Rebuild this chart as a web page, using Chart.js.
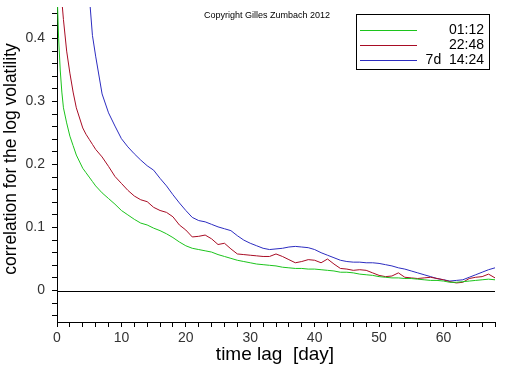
<!DOCTYPE html>
<html>
<head>
<meta charset="utf-8">
<script src="https://cdn.jsdelivr.net/npm/chart.js@4/dist/chart.umd.min.js"></script>
<style>
  html, body { margin: 0; padding: 0; background: #fff; }
  canvas { display: block; }
</style>
</head>
<body>
<canvas id="acf" width="512" height="366"></canvas>
<script>
(function () {
    'use strict';

    // time lag in days
    var lags = [0, 0.25, 0.5, 0.75, 1, 1.5, 2, 2.5, 3, 4, 4.5, 5, 5.5,
        6, 7, 8, 9, 10, 11, 12, 13, 14, 15, 16, 17, 18, 19, 20, 21, 22, 23, 24, 25, 26, 27,
        28, 29, 30, 31, 32, 33, 34, 35, 36, 37, 38, 39, 40, 41, 42, 43, 44, 45, 46, 47, 48,
        49, 50, 51, 52, 53, 54, 55, 56, 57, 58, 59, 60, 61, 62, 63, 64, 65, 66, 67, 68];

    // 01:12
    var acfShort = [0.48, 0.40, 0.35, 0.315, 0.29, 0.266, 0.245, 0.23, 0.215, 0.194, 0.187, 0.18, 0.173,
        0.166, 0.155, 0.146, 0.137, 0.127, 0.12, 0.113, 0.107, 0.104, 0.099, 0.095, 0.09, 0.084, 0.077,
        0.071, 0.067, 0.065, 0.063, 0.061, 0.057, 0.054, 0.051, 0.048, 0.046, 0.044, 0.042, 0.041,
        0.04, 0.039, 0.037, 0.036, 0.035, 0.035, 0.034, 0.034, 0.033, 0.032, 0.031, 0.029, 0.029,
        0.028, 0.026, 0.025, 0.024, 0.022, 0.021, 0.020, 0.020, 0.019, 0.019, 0.018, 0.017, 0.016,
        0.016, 0.015, 0.013, 0.013, 0.014, 0.015, 0.016, 0.017, 0.018, 0.017];

    // 22:48
    var acfDay = [null, null, 0.52, 0.46, 0.43, 0.38, 0.345, 0.315, 0.29, 0.258, 0.248, 0.24, 0.232,
        0.224, 0.212, 0.197, 0.181, 0.17, 0.159, 0.150, 0.144, 0.141, 0.132, 0.127, 0.124, 0.117, 0.104,
        0.096, 0.085, 0.086, 0.088, 0.082, 0.073, 0.075, 0.066, 0.058, 0.057, 0.056, 0.055, 0.054,
        0.054, 0.058, 0.054, 0.049, 0.044, 0.046, 0.049, 0.048, 0.044, 0.050, 0.042, 0.035, 0.034,
        0.032, 0.033, 0.032, 0.028, 0.024, 0.022, 0.023, 0.028, 0.021, 0.020, 0.019, 0.020, 0.021,
        0.019, 0.017, 0.014, 0.012, 0.013, 0.019, 0.021, 0.022, 0.026, 0.020];

    // 7d 14:24
    var acfWeek = [null, null, null, null, null, null, null, null, null, null, 0.55, 0.47, 0.405,
        0.372, 0.312, 0.282, 0.261, 0.241, 0.228, 0.217, 0.207, 0.198, 0.191, 0.178, 0.166, 0.152, 0.139,
        0.127, 0.116, 0.111, 0.109, 0.105, 0.101, 0.098, 0.095, 0.087, 0.080, 0.075, 0.071, 0.067,
        0.065, 0.066, 0.067, 0.069, 0.07, 0.069, 0.068, 0.065, 0.060, 0.056, 0.052, 0.048, 0.046,
        0.045, 0.045, 0.044, 0.044, 0.043, 0.041, 0.039, 0.036, 0.034, 0.031, 0.028, 0.025, 0.022,
        0.019, 0.017, 0.015, 0.016, 0.017, 0.021, 0.025, 0.029, 0.033, 0.036];

    var seriesLabels = ['01:12', '22:48', '7d  14:24'];
    var seriesColors = ['#1cc41c', '#a80c24', '#2c2cc0'];
    var seriesValues = [acfShort, acfDay, acfWeek];

    var yTickLabels = ['0', '0.1', '0.2', '0.3', '0.4'];
    var xTickLabels = ['0', '10', '20', '30', '40', '50', '60'];

    var datasets = [];
    for (var i = 0; i < seriesValues.length; i++) {
        var pts = [];
        for (var j = 0; j < lags.length; j++) {
            if (seriesValues[i][j] !== null) {
                pts.push({x: lags[j], y: seriesValues[i][j]});
            }
        }
        datasets.push({
            label: seriesLabels[i],
            data: pts,
            borderColor: seriesColors[i],
            borderWidth: 1,
            pointRadius: 0,
            tension: 0,
            fill: false
        });
    }

    var tickFont = {family: 'Liberation Sans', size: 14};

    // zero line, titles, copyright and the boxed legend
    var decorations = {
        id: 'decorations',
        afterDatasetsDraw: function (chart) {
            var ctx = chart.ctx;
            var area = chart.chartArea;
            var y0 = Math.round(chart.scales.y.getPixelForValue(0)) + 0.5;

            ctx.save();
            ctx.strokeStyle = '#000';
            ctx.lineWidth = 1;
            ctx.beginPath();
            ctx.moveTo(area.left, y0);
            ctx.lineTo(area.right, y0);
            ctx.stroke();

            ctx.fillStyle = '#000';
            ctx.font = '9px "Liberation Sans"';
            ctx.textAlign = 'left';
            ctx.textBaseline = 'middle';
            ctx.fillText('Copyright Gilles Zumbach 2012', 204, 16);

            ctx.font = '19px "Liberation Sans"';
            ctx.textAlign = 'center';
            ctx.fillText('time lag  [day]', 275, 355);

            ctx.save();
            ctx.translate(11, 159);
            ctx.rotate(-Math.PI / 2);
            ctx.font = '17.5px "Liberation Sans"';
            ctx.fillText('correlation for the log volatility', 0, 0);
            ctx.restore();

            // legend box
            ctx.fillStyle = '#fff';
            ctx.fillRect(356, 14, 133, 55);
            ctx.strokeRect(356.5, 14.5, 133, 55);
            ctx.font = '14px "Liberation Sans"';
            ctx.textAlign = 'right';
            for (var k = 0; k < chart.data.datasets.length; k++) {
                var ds = chart.data.datasets[k];
                var ly = 30 + k * 15;
                ctx.strokeStyle = ds.borderColor;
                ctx.beginPath();
                ctx.moveTo(360, ly + 0.5);
                ctx.lineTo(417, ly + 0.5);
                ctx.stroke();
                ctx.fillStyle = '#000';
                ctx.fillText(ds.label, 484, ly);
            }
            ctx.restore();
        }
    };

    var ctx = document.getElementById('acf').getContext('2d');
    window.acfChart = new Chart(ctx, {
        type: 'line',
        data: {datasets: datasets},
        plugins: [decorations],
        options: {
            responsive: false,
            animation: false,
            devicePixelRatio: 1,
            layout: {padding: {left: 0, top: 7, right: 17, bottom: 0}},
            plugins: {legend: {display: false}, tooltip: {enabled: false}},
            scales: {
                x: {
                    type: 'linear',
                    min: 0,
                    max: 68,
                    afterFit: function (s) {
                        s.height = 44;
                        s.paddingLeft = 0;
                        s.paddingRight = 0;
                    },
                    afterBuildTicks: function (s) {
                        var t = [];
                        for (var v = 0; v <= 68; v += 2) t.push({value: v});
                        s.ticks = t;
                    },
                    border: {color: '#000', width: 1},
                    grid: {drawOnChartArea: false, color: '#000', tickLength: 5},
                    ticks: {
                        autoSkip: false,
                        maxRotation: 0,
                        padding: 3,
                        color: '#333',
                        font: tickFont,
                        callback: function (v) {
                            return v % 10 === 0 ? xTickLabels[v / 10] : '';
                        }
                    }
                },
                y: {
                    min: -0.05,
                    max: 0.45,
                    afterFit: function (s) {
                        s.width = 57;
                        s.paddingTop = 0;
                        s.paddingBottom = 0;
                    },
                    afterBuildTicks: function (s) {
                        var t = [];
                        for (var v = -2; v <= 22; v++) t.push({value: v * 0.02});
                        s.ticks = t;
                    },
                    border: {color: '#000', width: 1},
                    grid: {drawOnChartArea: false, color: '#000', tickLength: 5},
                    ticks: {
                        autoSkip: false,
                        padding: 7,
                        color: '#333',
                        font: tickFont,
                        callback: function (v) {
                            var n = Math.round(v * 50);
                            return (n >= 0 && n % 5 === 0) ? yTickLabels[n / 5] : '';
                        }
                    }
                }
            }
        }
    });
})();
</script>
</body>
</html>
